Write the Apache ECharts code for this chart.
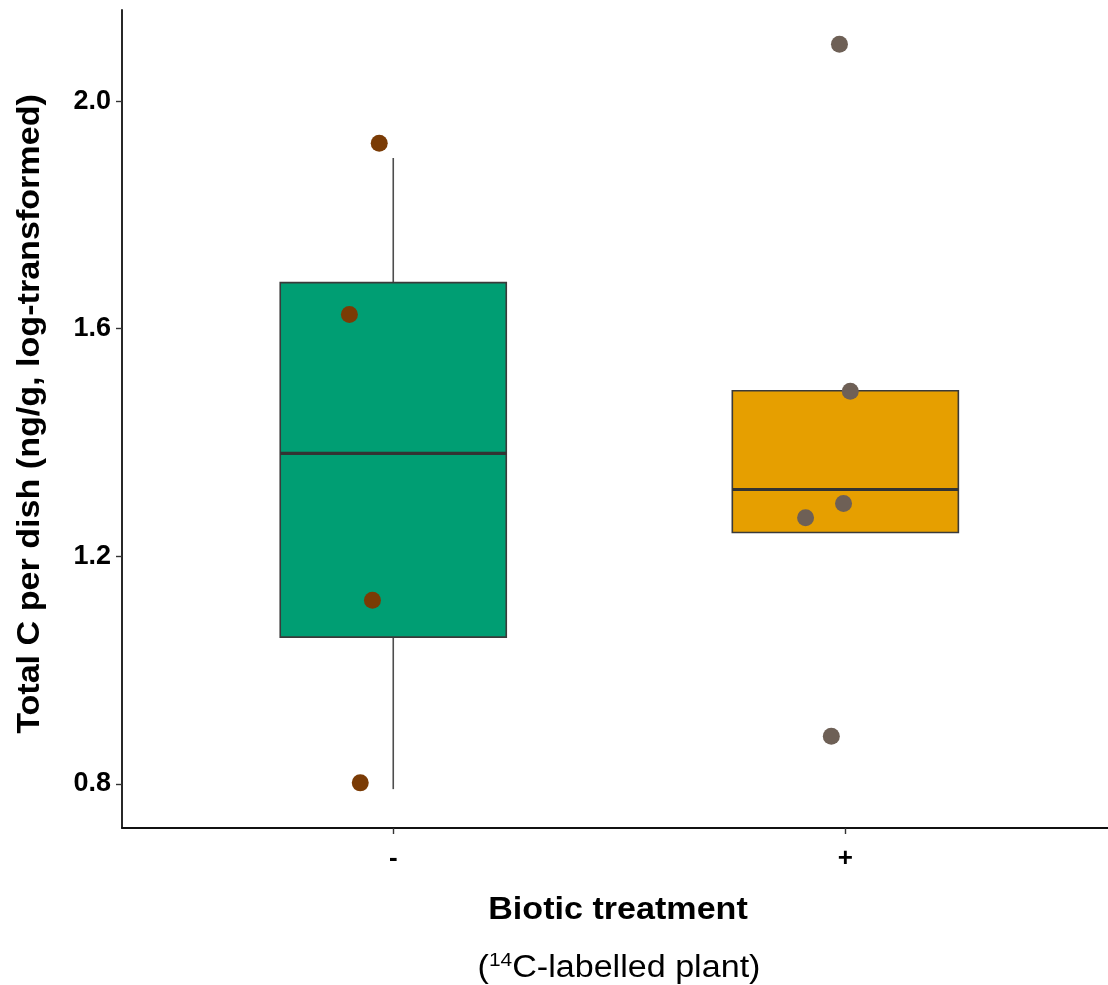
<!DOCTYPE html>
<html>
<head>
<meta charset="utf-8">
<script src="https://cdn.jsdelivr.net/npm/echarts@6/dist/echarts.min.js"></script>
<style>html,body{margin:0;padding:0;background:#fff}#c{width:1108px;height:985px}</style>
</head>
<body>
<div id="c"></div>
<script>
// ---- data ----
const categories = ['-', '+'];
const catPositions = [1, 2];
// [min, Q1, median, Q3, max] per group
const boxMinus = [0.791, 1.058, 1.381, 1.681, 1.900];
const boxPlus = [1.242, 1.242, 1.3175, 1.491, 1.491];
const boxColors = ['#009E73', '#E69F00'];
// jittered points [x, y]
const pointsMinus = [[0.969, 1.926], [0.903, 1.625], [0.954, 1.123], [0.927, 0.802]];
const pointsPlus = [[1.987, 2.100], [2.011, 1.490], [1.996, 1.293], [1.912, 1.268], [1.969, 0.884]];
const pointColors = ['#7a3b05', '#6e6056'];
const yTicks = [0.8, 1.2, 1.6, 2.0];
const yTitle = 'Total C per dish (ng/g, log-transformed)';
const xTitle = 'Biotic treatment';

const chart = echarts.init(document.getElementById('c'), null, {renderer: 'canvas'});
const FONT = '"Liberation Sans", Arial, sans-serif';

function renderBox(params, api) {
  const x = api.value(0);
  const mn = api.value(1), q1 = api.value(2), md = api.value(3), q3 = api.value(4), mx = api.value(5);
  const w = api.size([0.5, 0])[0];
  const pQ1 = api.coord([x, q1]), pQ3 = api.coord([x, q3]);
  const pMd = api.coord([x, md]), pMn = api.coord([x, mn]), pMx = api.coord([x, mx]);
  const cx = pQ1[0];
  const children = [];
  if (mx > q3) children.push({type: 'line', shape: {x1: cx, y1: pMx[1], x2: cx, y2: pQ3[1]}, style: {stroke: '#4d4d4d', lineWidth: 1.6}});
  if (mn < q1) children.push({type: 'line', shape: {x1: cx, y1: pQ1[1], x2: cx, y2: pMn[1]}, style: {stroke: '#4d4d4d', lineWidth: 1.6}});
  children.push({type: 'rect', shape: {x: cx - w / 2, y: pQ3[1], width: w, height: pQ1[1] - pQ3[1]},
    style: {fill: boxColors[params.dataIndex], stroke: '#3a3a3a', lineWidth: 1.6}});
  children.push({type: 'line', shape: {x1: cx - w / 2, y1: pMd[1], x2: cx + w / 2, y2: pMd[1]}, style: {stroke: '#333333', lineWidth: 3.2}});
  return {type: 'group', children};
}

const option = {
  animation: false,
  backgroundColor: '#ffffff',
  grid: {left: 122, right: 0, top: 10, bottom: 157, containLabel: false},
  xAxis: {
    type: 'value', min: 0.4, max: 2.581,
    splitLine: {show: false},
    axisLine: {show: true, lineStyle: {color: '#111', width: 1.8}},
    axisTick: {show: true, length: 6, lineStyle: {color: '#333', width: 1.4}, customValues: catPositions},
    axisLabel: {show: true, customValues: catPositions, margin: 18, fontFamily: FONT, fontWeight: 'bold', fontSize: 26, color: '#000',
      formatter: v => categories[catPositions.indexOf(Math.round(v))] || ''}
  },
  yAxis: {
    type: 'value', min: 0.7227, max: 2.160,
    splitLine: {show: false},
    axisLine: {show: true, lineStyle: {color: '#111', width: 1.8}},
    axisTick: {show: true, length: 6, lineStyle: {color: '#333', width: 1.4}, customValues: yTicks},
    axisLabel: {show: true, customValues: yTicks, margin: 11, fontFamily: FONT, fontWeight: 'bold', fontSize: 27, color: '#000',
      formatter: v => v.toFixed(1)}
  },
  series: [
    {type: 'custom', renderItem: renderBox, encode: {x: 0, y: [1, 2, 3, 4, 5]},
      data: [[catPositions[0]].concat(boxMinus), [catPositions[1]].concat(boxPlus)], z: 2},
    {type: 'scatter', data: pointsMinus, symbolSize: 17, itemStyle: {color: pointColors[0], opacity: 1}, z: 3},
    {type: 'scatter', data: pointsPlus, symbolSize: 17, itemStyle: {color: pointColors[1], opacity: 1}, z: 3}
  ],
  graphic: [
    {type: 'text', x: 30, y: 414, rotation: Math.PI / 2, scaleX: 1.1,
      style: {text: yTitle, font: 'bold 31px ' + FONT, fill: '#000', align: 'center', verticalAlign: 'middle'}},
    {type: 'text', x: 618, y: 910, scaleX: 1.1,
      style: {text: xTitle, font: 'bold 31px ' + FONT, fill: '#000', align: 'center', verticalAlign: 'middle'}},
    {type: 'text', x: 619, y: 968, scaleX: 1.1,
      style: {text: '({sup|14}C-labelled plant)', font: '31px ' + FONT, fill: '#000', align: 'center', verticalAlign: 'middle',
        rich: {sup: {fontSize: 19, fontFamily: FONT, verticalAlign: 'top', padding: [0, 0, 14, 0], fill: '#000'}}}}
  ]
};
chart.setOption(option);
</script>
</body>
</html>
